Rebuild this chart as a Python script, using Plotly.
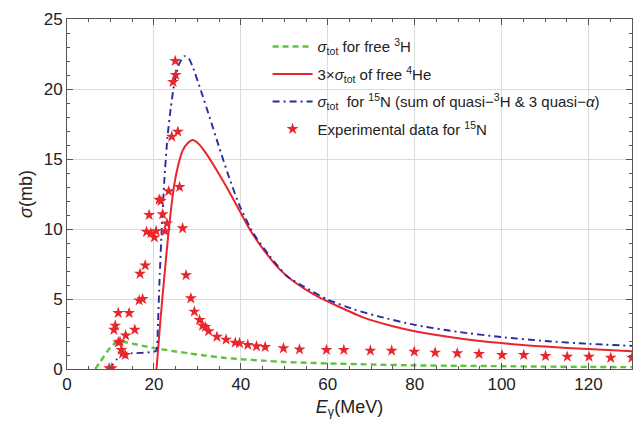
import plotly.graph_objects as go

# Photoabsorption cross sections for 15N (mb) versus photon energy (MeV)

# free 3H total cross section
h3_e = [6.5, 7.5, 8.5, 9.5, 10.5, 11.5, 12.5, 14, 16, 18, 20, 22, 25, 28, 32, 36,
        40, 45, 50, 55, 60, 70, 80, 90, 100, 110, 120, 130]
h3_sigma = [0.0, 0.45, 0.9, 1.35, 1.7, 1.92, 1.95, 1.88, 1.75, 1.62, 1.5, 1.4, 1.25,
            1.12, 0.95, 0.8, 0.7, 0.6, 0.5, 0.45, 0.4, 0.32, 0.26, 0.23, 0.2, 0.17,
            0.15, 0.13]

# 3 x free 4He total cross section
he4_e = [20.6, 21.5, 22.4, 23.5, 24.7, 25.5, 26.6, 27.8, 28.9, 30.2, 32, 35.1, 37.8,
         39.8, 42.1, 45.2, 49, 52.1, 57.5, 62.2, 68.3, 75, 80, 90, 100, 110, 120, 130]
he4_sigma = [0.0, 3.5, 6.6, 10.2, 13.2, 14.45, 15.6, 16.15, 16.35, 16.1, 15.4, 13.86,
             12.4, 11.25, 9.95, 8.53, 7.1, 6.27, 5.2, 4.5, 3.67, 3.05, 2.7, 2.2, 1.85,
             1.6, 1.42, 1.27]

# 15N: sum of quasi-3H and 3 quasi-alpha
n15_e = [9.7, 10.5, 11.5, 12.5, 13.5, 15, 17, 19, 20.5, 20.9, 21.3, 21.8, 22.4, 23.1,
         23.9, 24.7, 25.8, 27.0, 28.0, 28.9, 30.8, 32.8, 35.1, 37.5, 39.8, 42.85, 46.7,
         50.6, 54.4, 59.9, 66, 71.4, 80, 90, 100, 110, 120, 130]
n15_sigma = [0.0, 0.3, 0.7, 1.0, 1.08, 1.12, 1.15, 1.2, 1.3, 3.0, 6.4, 10.0, 13.5,
             16.5, 18.7, 20.4, 21.8, 22.35, 22.2, 21.6, 19.9, 18.0, 15.75, 13.5, 11.6,
             9.7, 8.05, 6.63, 5.9, 4.97, 4.26, 3.78, 3.15, 2.65, 2.28, 2.0, 1.8, 1.65]

# experimental 15N data
exp_e = [9.7, 10.3, 10.8, 11.1, 11.8, 11.8, 12.2, 12.5, 12.8, 13.4, 13.5, 14.3, 15.6,
         16.6, 17.4, 16.8, 18.0, 18.3, 18.9, 19.3, 20.1, 20.5, 21.2, 21.6, 22.0, 22.6,
         23.0, 23.4, 24.1, 24.4, 25.0, 24.9, 25.5, 25.9, 26.6, 27.4, 28.5, 29.3, 30.5,
         31.2, 31.8, 32.6, 34.5, 36.6, 38.7, 39.7, 41.6, 43.6, 45.6, 49.8, 53.5, 59.7,
         63.7, 69.8, 74.7, 79.9, 84.7, 89.8, 94.8, 100.1, 105.1, 110.1, 115.1, 120.1,
         125.1, 130.0]
exp_sigma = [0.05, 0.05, 2.8, 3.1, 4.0, 1.9, 1.95, 1.36, 1.1, 1.0, 2.4, 4.0, 2.8,
             4.9, 5.0, 6.8, 7.4, 9.8, 11.0, 9.7, 9.4, 9.85, 12.1, 12.0, 11.05, 9.85,
             10.4, 12.7, 16.6, 20.5, 21.0, 22.0, 16.95, 13.0, 10.05, 6.7, 5.05, 4.1, 3.5,
             3.1, 3.0, 2.7, 2.3, 2.1, 1.88, 1.85, 1.72, 1.62, 1.57, 1.48, 1.4, 1.36,
             1.36, 1.31, 1.31, 1.24, 1.17, 1.12, 1.07, 1.0, 1.0, 0.93, 0.88, 0.88,
             0.8, 0.8]

x_ticks = [0, 20, 40, 60, 80, 100, 120]
y_ticks = [0, 5, 10, 15, 20, 25]

RED = "#e8262b"
GREEN = "#5cc43c"
BLUE = "#2b2b9c"
FONT = "Liberation Sans, Arial, sans-serif"

fig = go.Figure()
fig.add_trace(go.Scatter(
    x=h3_e, y=h3_sigma, mode="lines", legendgroup="a",
    line=dict(color=GREEN, width=2.4, dash="6px,4px", shape="spline", smoothing=0.6),
    name="<i>σ</i><sub>tot</sub> for free <sup>3</sup>H"))
fig.add_trace(go.Scatter(
    x=he4_e, y=he4_sigma, mode="lines", legendgroup="b",
    line=dict(color=RED, width=2, shape="spline", smoothing=0.6),
    name="3×<i>σ</i><sub>tot</sub> of free <sup>4</sup>He"))
fig.add_trace(go.Scatter(
    x=n15_e, y=n15_sigma, mode="lines", legendgroup="c",
    line=dict(color=BLUE, width=1.9, dash="7px,4px,2px,4px", shape="spline", smoothing=0.6),
    name="<i>σ</i><sub>tot</sub>  for <sup>15</sup>N (sum of quasi−<sup>3</sup>H &amp; 3 quasi−<i>α</i>)"))
fig.add_trace(go.Scatter(
    x=exp_e, y=exp_sigma, mode="markers", legendgroup="d",
    marker=dict(symbol="star", size=9, color=RED, line=dict(width=0)),
    name="Experimental data for <sup>15</sup>N"))

axis_common = dict(
    showline=True, linecolor="#555555", linewidth=1, mirror="ticks",
    ticks="inside", ticklen=6, tickcolor="#555555",
    showgrid=True, gridcolor="#dcdcdc", gridwidth=1, zeroline=False,
    tickfont=dict(family=FONT, size=17, color="#222222"),
)

fig.update_xaxes(
    range=[0, 130], tickvals=x_ticks,
    minor=dict(ticks="inside", dtick=5, ticklen=3, tickcolor="#555555", showgrid=False),
    title=dict(text="<i>E</i><sub>γ</sub>(MeV)", font=dict(family=FONT, size=18, color="#222222"),
               standoff=6),
    **axis_common)
fig.update_yaxes(
    range=[0, 25], tickvals=y_ticks,
    minor=dict(ticks="inside", dtick=1, ticklen=3, tickcolor="#555555", showgrid=False),
    title=dict(text="<i>σ</i>(mb)", font=dict(family=FONT, size=18, color="#222222"),
               standoff=6),
    **axis_common)

fig.update_layout(
    width=640, height=426,
    margin=dict(l=67, r=8, t=19, b=57),
    paper_bgcolor="white", plot_bgcolor="white",
    showlegend=True,
    legend=dict(
        x=0.355, y=0.968, xanchor="left", yanchor="top",
        bgcolor="rgba(0,0,0,0)", borderwidth=0,
        font=dict(family=FONT, size=15, color="#222222"),
        tracegroupgap=5, itemwidth=40,
    ),
)

fig.write_html("out.html")
